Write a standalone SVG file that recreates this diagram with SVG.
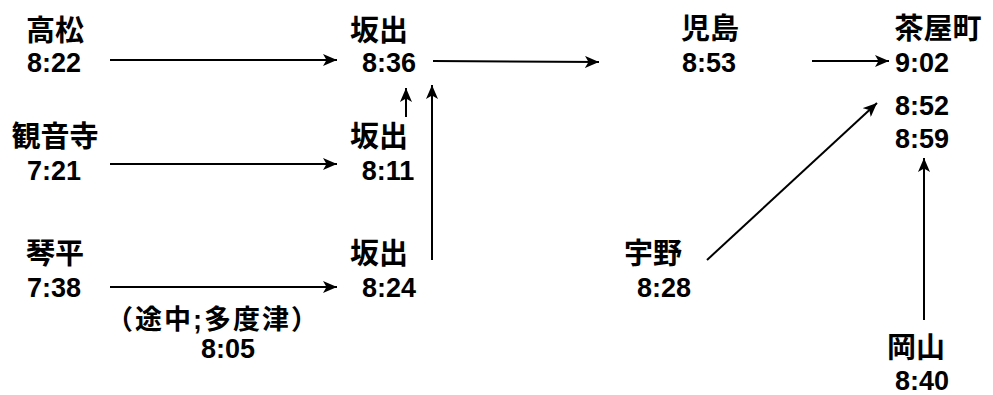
<svg xmlns="http://www.w3.org/2000/svg" width="993" height="395" viewBox="0 0 993 395">
<style>
text{font-family:"Liberation Sans","Noto Sans CJK JP",sans-serif;font-weight:bold;font-size:27px;fill:#000;text-anchor:middle}
text.j{font-size:29px}
.c{stroke:#000;stroke-width:2;fill:none}
</style>
<defs>
<marker id="ah" viewBox="0 0 14 12" refX="14" refY="6" markerWidth="14" markerHeight="12" markerUnits="userSpaceOnUse" orient="auto">
<path d="M0,0 L14,6 L0,12 L3.5,6 Z" fill="#000"/>
</marker>
</defs>
<rect width="993" height="395" fill="#fff"/>
<g id="connectors">
<line class="c" x1="110" y1="60" x2="337" y2="60" marker-end="url(#ah)"/>
<line class="c" x1="110" y1="164" x2="337" y2="164" marker-end="url(#ah)"/>
<line class="c" x1="110" y1="287" x2="337" y2="287" marker-end="url(#ah)"/>
<line class="c" x1="406" y1="117" x2="406" y2="88" marker-end="url(#ah)"/>
<line class="c" x1="432" y1="260" x2="432" y2="85" marker-end="url(#ah)"/>
<line class="c" x1="433" y1="61" x2="599" y2="62" marker-end="url(#ah)"/>
<line class="c" x1="812" y1="61" x2="889" y2="61" marker-end="url(#ah)"/>
<line class="c" x1="707" y1="260" x2="877" y2="103" marker-end="url(#ah)"/>
<line class="c" x1="924" y1="320" x2="924" y2="158" marker-end="url(#ah)"/>
</g>
<g id="takamatsu"><text class="j" x="55" y="41">高松</text><text x="54" y="72">8:22</text></g>
<g id="kanonji"><text class="j" x="55" y="147">観音寺</text><text x="54" y="180">7:21</text></g>
<g id="kotohira"><text class="j" x="55" y="264">琴平</text><text x="54" y="297">7:38</text></g>
<g id="via"><text class="j" x="212" y="329" style="font-size:27px" textLength="212" lengthAdjust="spacing">（途中;多度津）</text><text x="228" y="358">8:05</text></g>
<g id="sakaide1"><text class="j" x="379" y="41">坂出</text><text x="389" y="72">8:36</text></g>
<g id="sakaide2"><text class="j" x="379" y="147">坂出</text><text x="388" y="180">8:11</text></g>
<g id="sakaide3"><text class="j" x="379" y="264">坂出</text><text x="389" y="297">8:24</text></g>
<g id="kojima"><text class="j" x="710" y="39">児島</text><text x="709" y="72">8:53</text></g>
<g id="chayamachi"><text class="j" x="938" y="39">茶屋町</text><text x="922" y="72">9:02</text><text x="922" y="115">8:52</text><text x="922" y="148">8:59</text></g>
<g id="uno"><text class="j" x="653" y="264">宇野</text><text x="664" y="297">8:28</text></g>
<g id="okayama"><text class="j" x="916" y="358">岡山</text><text x="922" y="390">8:40</text></g>
</svg>
